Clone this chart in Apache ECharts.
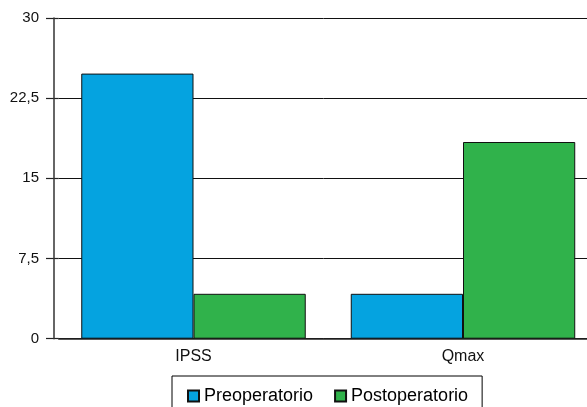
<!DOCTYPE html>
<html><head><meta charset="utf-8">
<script src="https://cdn.jsdelivr.net/npm/echarts@6/dist/echarts.min.js"></script>
<style>html,body{margin:0;padding:0;background:#fff;overflow:hidden}#c{width:587px;height:407px}</style>
</head><body><div id="c"></div>
<script>
const categories = ['IPSS', 'Qmax'];
const seriesNames = ['Preoperatorio', 'Postoperatorio'];
const preoperatorio = [24.8, 4.2];
const postoperatorio = [4.2, 18.4];
const yTicks = [0, 7.5, 15, 22.5, 30];
const colors = ['#05A3E0', '#30B24B'];

const chart = echarts.init(document.getElementById('c'), null, {renderer: 'canvas'});
const font = 'Liberation Sans, Arial, Helvetica, sans-serif';
const yMax = yTicks[yTicks.length - 1];
const yLabel = v => String(v).replace('.', ',');
chart.setOption({
  animation: false,
  textStyle: {fontFamily: font},
  grid: [
    {left: 58.75, top: 18, width: 539, height: 320.7, containLabel: false, outerBoundsMode: 'none'},
    {left: 46, top: 18, width: 12.75, height: 320.7, containLabel: false, outerBoundsMode: 'none'}
  ],
  legend: {
    data: seriesNames,
    left: 172, top: 376,
    padding: [11, 14, 20, 15],
    itemWidth: 11, itemHeight: 11, itemGap: 21,
    icon: 'rect',
    borderColor: '#000', borderWidth: 1,
    textStyle: {fontFamily: font, fontSize: 18, color: '#000'},
    selectedMode: false
  },
  xAxis: [{
    type: 'category', data: categories, gridIndex: 0,
    axisLine: {lineStyle: {color: '#222', width: 1.5}},
    axisTick: {show: false},
    axisLabel: {fontFamily: font, fontSize: 16, color: '#111', margin: 10}
  }, {
    type: 'value', gridIndex: 1, min: 0, max: 1, show: false
  }],
  yAxis: [{
    type: 'value', gridIndex: 0, min: 0, max: yMax, interval: 7.5, position: 'left', offset: 4.75,
    axisLine: {show: true, lineStyle: {color: '#333', width: 1.5}},
    axisTick: {show: false},
    axisLabel: {fontFamily: font, fontSize: 15, color: '#111', margin: 15, formatter: yLabel},
    splitLine: {show: true, lineStyle: {color: '#111', width: 1}}
  }, {
    type: 'value', gridIndex: 1, min: 0, max: yMax, interval: 7.5,
    axisLine: {show: false},
    axisTick: {show: false},
    axisLabel: {show: false},
    splitLine: {show: true, lineStyle: {color: '#222', width: 1.2}}
  }],
  series: [
    {name: seriesNames[0], type: 'bar', data: preoperatorio, barGap: '0%', barCategoryGap: '16.7%',
     itemStyle: {color: colors[0], borderColor: '#111', borderWidth: 1}},
    {name: seriesNames[1], type: 'bar', data: postoperatorio, barGap: '0%', barCategoryGap: '16.7%',
     itemStyle: {color: colors[1], borderColor: '#111', borderWidth: 1}}
  ]
});
</script></body></html>
